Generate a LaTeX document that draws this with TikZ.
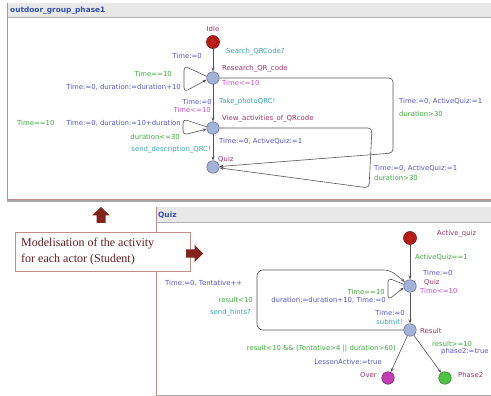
\documentclass[tikz,border=0pt]{standalone}
\usepackage{fontspec}
\setmainfont{DejaVu Sans}
\newfontfamily\calloutfont{Liberation Serif}
\usetikzlibrary{arrows.meta}
\definecolor{cname}{RGB}{160,50,100}
\definecolor{cinv}{RGB}{200,80,210}
\definecolor{csync}{RGB}{60,165,180}
\definecolor{casg}{RGB}{85,85,200}
\definecolor{cguard}{RGB}{60,170,60}
\definecolor{locf}{RGB}{165,178,216}
\definecolor{locb}{RGB}{95,105,150}
\definecolor{idlef}{RGB}{200,30,25}
\definecolor{idleb}{RGB}{110,20,15}
\definecolor{edgec}{RGB}{85,85,85}
\definecolor{framec}{RGB}{195,140,140}
\definecolor{barc}{RGB}{232,232,232}
\definecolor{titlec}{RGB}{50,80,180}
\definecolor{arrowc}{RGB}{130,35,30}
\definecolor{calltext}{RGB}{100,30,30}
\definecolor{overc}{RGB}{195,60,180}
\definecolor{phasec}{RGB}{80,195,70}
\tikzset{
  loc/.style={circle, draw=locb, fill=locf, minimum size=12.5pt, inner sep=0pt, line width=0.5pt},
  initloc/.style={circle, draw=idleb, fill=idlef, minimum size=13pt, inner sep=0pt, line width=0.6pt},
  edge/.style={draw=edgec, line width=0.6pt, -{Stealth[length=4pt,width=3pt]}},
  lb/.style={font=\fontsize{6.9}{8}\selectfont, inner sep=0pt},
  lw/.style={lb, anchor=west},
  le/.style={lb, anchor=east},
  ttl/.style={font=\fontsize{7.4}{8}\selectfont\bfseries, text=titlec, inner sep=0pt, anchor=west},
  blockarrow/.style={fill=arrowc, draw=none}
}
\begin{document}
\begin{tikzpicture}[x=1pt,y=-1pt]
\useasboundingbox (0,0) rectangle (491,396);
\fill[white] (0,0) rectangle (491,396);
% ---------- top panel ----------
\draw[gray!70, line width=1.5pt] (7,201) -- (495,201);
\draw[framec, line width=0.8pt, fill=white] (7,3) rectangle (495,199.5);
\fill[barc] (7.5,3.5) rectangle (494,17);
\draw[gray!60, line width=0.4pt] (7.5,17) -- (494,17);
\node[ttl] (t1) at (10,10.5) {outdoor\_group\_phase1};

\node[initloc] (idle) at (213,42) {};
\draw[idleb, line width=0.5pt] (idle) circle (4.3);
\node[loc] (res) at (213,78) {};
\node[loc] (view) at (213,128) {};
\node[loc] (quiz1) at (213,167) {};

\draw[edge] (idle) -- (res);
\draw[edge] (res) -- (view);
\draw[edge] (view) -- (quiz1);
\draw[edge, rounded corners=4] (res.165) -- (184,66) -- (184,92) -- (res.195);
\draw[edge, rounded corners=4] (view.170) -- (183,119) -- (183,135) -- (view.190);
\draw[edge, rounded corners=4] (res.east) -- (393,78) -- (393,153) -- (quiz1);
\draw[edge, rounded corners=4] (view.east) -- (372,128) -- (369,188) -- (quiz1);

\node[lb, text=cname] (l1) at (213,29) {Idle};
\node[lw, text=csync] (l2) at (226,52) {Search\_QRCode?};
\node[le, text=casg] (l3) at (202,56) {Time:=0};
\node[lw, text=cname] (l4) at (222,69) {Research\_QR\_code};
\node[lw, text=cinv] (l5) at (222,83) {Time<=10};
\node[le, text=cguard] (l6) at (172,74) {Time==10};
\node[le, text=casg] (l7) at (181,87) {Time:=0, duration:=duration+10};
\node[le, text=casg] (l8) at (212,102) {Time:=0};
\node[lw, text=csync] (l9) at (219,102) {Take\_photoQRC!};
\node[le, text=cinv] (l10) at (211,110) {Time<=10};
\node[lw, text=cname] (l11) at (222,119) {View\_activities\_of\_QRcode};
\node[lw, text=cguard] (l12) at (17,123) {Time==10};
\node[le, text=casg] (l13) at (181,123) {Time:=0, duration:=10+duration};
\node[le, text=cguard] (l14) at (180,137) {duration<=30};
\node[le, text=csync] (l15) at (211,150) {send\_description\_QRC!};
\node[lw, text=casg] (l16) at (219,141) {Time:=0, ActiveQuiz:=1};
\node[lw, text=cname] (l17) at (218,159) {Quiz};
\node[lw, text=casg] (l18) at (399,101) {Time:=0, ActiveQuiz:=1};
\node[lw, text=cguard] (l19) at (399,114) {duration>30};
\node[lw, text=casg] (l20) at (374,168) {Time:=0, ActiveQuiz:=1};
\node[lw, text=cguard] (l21) at (374,178) {duration>30};

% ---------- bottom panel ----------
\draw[framec, line width=0.8pt, fill=white] (156,207) rectangle (495,395);
\draw[gray!70, line width=1.5pt] (156,395.5) -- (495,395.5);
\fill[barc] (156.5,207.5) rectangle (494,222);
\draw[gray!60, line width=0.4pt] (156.5,222) -- (494,222);
\node[ttl] (t2) at (158,215) {Quiz};

\node[initloc] (aq) at (410,238) {};
\draw[idleb, line width=0.5pt] (aq) circle (4.3);
\node[loc] (q2) at (410,286) {};
\node[loc] (res2) at (410,330) {};
\node[loc, fill=overc, draw=overc!60!black] (over) at (388,378) {};
\node[loc, fill=phasec, draw=phasec!60!black] (ph2) at (445,378) {};

\draw[edge] (aq) -- (q2);
\draw[edge] (q2) -- (res2);
\draw[edge, rounded corners=4] (q2.165) -- (388,278) -- (388,300) -- (q2.195);
\draw[edge, rounded corners=6] (res2.west) -- (257,330) -- (257,270) -- (390,270) -- (q2);
\draw[edge] (res2) -- (over);
\draw[edge] (res2) -- (ph2);

\node[lw, text=cname] (m1) at (437,234) {Active\_quiz};
\node[lw, text=cguard] (m2) at (415,257) {ActiveQuiz==1};
\node[lw, text=casg] (m3) at (423,273) {Time:=0};
\node[lw, text=cname] (m4) at (424,282) {Quiz};
\node[lw, text=cinv] (m5) at (420,291) {Time<=10};
\node[le, text=cguard] (m6) at (385,292) {Time==10};
\node[le, text=casg] (m7) at (386,300) {duration:=duration+10, Time:=0};
\node[le, text=casg] (m8) at (405,313) {Time:=0};
\node[le, text=csync] (m9) at (403,322) {submit!};
\node[lw, text=cname] (m10) at (420,331) {Result};
\node[lw, text=casg] (m11) at (165,283) {Time:=0, Tentative++};
\node[le, text=cguard] (m12) at (253,300) {result<10};
\node[le, text=csync] (m13) at (251,313) {send\_hints?};
\node[le, text=cguard] (m14) at (396,349) {result<10 \&\& (Tentative>4 || duration>60)};
\node[le, text=casg] (m15) at (382,362) {LessonActive:=true};
\node[le, text=cname] (m16) at (377,375) {Over};
\node[lw, text=cname] (m17) at (458,375) {Phase2};
\node[lw, text=cguard] (m18) at (432,344) {result>=10};
\node[lw, text=casg] (m19) at (441,352) {phase2:=true};

% ---------- callout ----------
\draw[framec, line width=0.8pt, fill=white] (15,232) rectangle (190,271);
\node[anchor=west, align=left, inner sep=0pt, text=calltext,
      font=\calloutfont\fontsize{12}{15.5}\selectfont] (call) at (21,251.5)
      {Modelisation of the activity\\for each actor (Student)};
\fill[blockarrow] (101,207) -- (110,215.5) -- (105.5,215.5) -- (105.5,223) -- (96.5,223) -- (96.5,215.5) -- (92,215.5) -- cycle;
\fill[blockarrow] (203,253.5) -- (194.5,245) -- (194.5,249.5) -- (186,249.5) -- (186,257.5) -- (194.5,257.5) -- (194.5,262) -- cycle;
\end{tikzpicture}
\end{document}
